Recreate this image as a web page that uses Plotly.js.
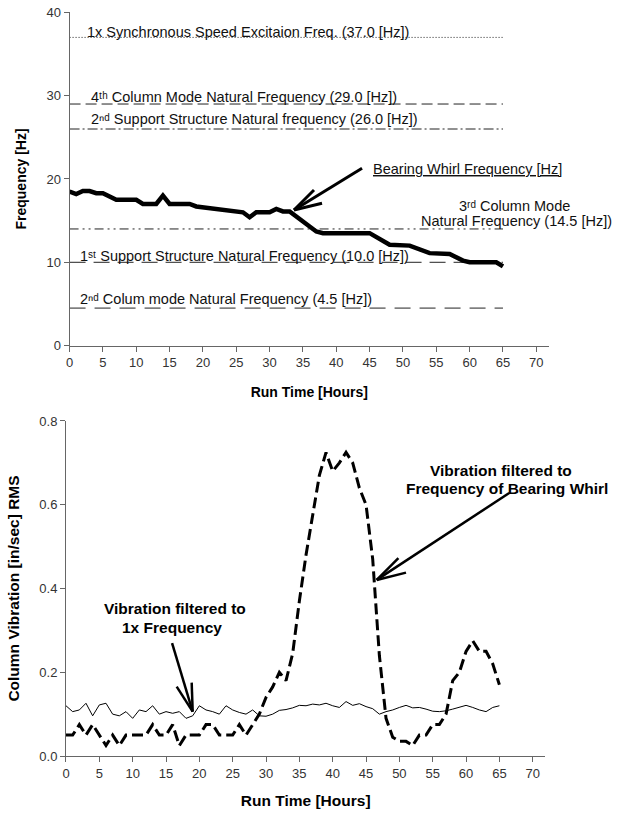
<!DOCTYPE html>
<html><head><meta charset="utf-8">
<script src="https://cdn.plot.ly/plotly-3.0.1.min.js"></script>
<style>html,body{margin:0;padding:0;background:#fff}</style>
</head><body><div id="chart" style="width:619px;height:816px"></div>
<script>
// ---------- DATA ----------
const tickHours = [0,5,10,15,20,25,30,35,40,45,50,55,60,65,70];

// Top chart: bearing whirl frequency [Hz]
const whirlHours = [0,1,2,3,4,5,7,10,11,13,14,15,18,19,26,27,28,30,31,32,33,37,38,45,48,51,54,57,59,60,64,65];
const whirlFreq  = [18.5,18.2,18.55,18.55,18.3,18.3,17.5,17.5,17,17,18,17,17,16.7,16.0,15.4,16,16,16.4,16.1,16.1,13.7,13.5,13.5,12.1,12,11.1,11,10.2,10,10,9.5];

// Top chart: natural / excitation frequency reference lines [Hz]
const refFreqs = [37, 29, 26, 14, 10, 4.5];
const refSpan  = [0, 65];

// Bottom chart
const runHours = [0,1,2,3,4,5,6,7,8,9,10,11,12,13,14,15,16,17,18,19,20,21,22,23,24,25,26,27,28,29,30,31,32,
                  33,34,35,36,37,38,39,40,41,42,43,44,45,46,47,48,49,50,51,52,53,54,55,56,57,58,59,60,61,62,63,64,65];
const vib1x = [0.12,0.106,0.11,0.126,0.096,0.122,0.126,0.10,0.096,0.106,0.09,0.11,0.106,0.12,0.10,0.106,0.102,0.106,0.09,0.096,
               0.12,0.11,0.106,0.10,0.12,0.11,0.104,0.10,0.11,0.096,0.095,0.10,0.109,0.111,0.115,0.121,0.12,0.124,0.122,0.126,
               0.12,0.116,0.13,0.121,0.125,0.118,0.113,0.10,0.106,0.11,0.116,0.121,0.115,0.116,0.112,0.107,0.106,0.108,0.112,0.116,
               0.121,0.116,0.11,0.106,0.116,0.12];
const vibWhirl = [0.05,0.05,0.075,0.05,0.075,0.05,0.025,0.05,0.025,0.05,0.05,0.05,0.05,0.075,0.05,0.05,0.075,0.025,0.05,0.05,
                  0.05,0.075,0.075,0.05,0.05,0.05,0.075,0.05,0.075,0.1,0.14,0.165,0.2,0.18,0.245,0.37,0.48,0.58,0.67,0.725,
                  0.68,0.70,0.725,0.70,0.64,0.60,0.47,0.24,0.09,0.045,0.035,0.035,0.025,0.05,0.05,0.075,0.075,0.1,0.18,0.2,
                  0.25,0.275,0.25,0.25,0.22,0.17];

// ---------- STYLE ----------
const FONT = 'Liberation Sans, Arial, Helvetica, sans-serif';
const refDash = {37:'1px,2px', 29:'11px,5px', 26:'10px,3px,2px,3px', 14:'9px,4px,2px,4px,2px,4px', 10:'16px,8px', 4.5:'16px,9px'};

const traces = [];
refFreqs.forEach(f => {
  traces.push({x: refSpan, y: [f, f], xaxis:'x', yaxis:'y', mode:'lines',
    line:{color:'#222', width:1, dash: refDash[f]}, hoverinfo:'skip'});
});
traces.push({x: whirlHours, y: whirlFreq, xaxis:'x', yaxis:'y', mode:'lines',
  line:{color:'#000', width:4.5}, name:'Bearing Whirl Frequency'});
traces.push({x: runHours, y: vib1x, xaxis:'x2', yaxis:'y2', mode:'lines',
  line:{color:'#000', width:1}, name:'1x'});
traces.push({x: runHours, y: vibWhirl, xaxis:'x2', yaxis:'y2', mode:'lines',
  line:{color:'#000', width:3, dash:'11px,5px'}, name:'Whirl'});

const axisCommon = {showline:true, linecolor:'#666', linewidth:1, ticks:'outside', ticklen:5,
  tickcolor:'#666', showgrid:false, zeroline:false, tickfont:{family:FONT, size:13, color:'#333'}};

function lbl(text, x, y, opts) {
  return Object.assign({text, x, y, xref:'x', yref:'y', showarrow:false, xanchor:'left', yanchor:'bottom',
    yshift:-5, font:{family:FONT, size:14.5, color:'#111'}}, opts || {});
}
// arrow stroke anchored at tip (data coords), drawn with pixel offsets (dx right, dy up)
function stroke(x, y, dx, dy, xr, yr, w) {
  return {type:'line', xref:xr, yref:yr, xsizemode:'pixel', ysizemode:'pixel', xanchor:x, yanchor:y,
    x0:0, y0:0, x1:dx, y1:dy, line:{color:'#000', width:w}};
}
const boldFont = {family:FONT, size:15.5, color:'#000', weight:'bold'};

const annotations = [
  lbl('1x Synchronous Speed Excitaion Freq. (37.0 [Hz])', 2.3, 37.1),
  lbl('4ᵗʰ Column Mode Natural Frequency (29.0 [Hz])', 2.9, 29.3),
  lbl('2ⁿᵈ Support Structure Natural frequency (26.0 [Hz])', 2.9, 26.6),
  lbl('<u>Bearing Whirl Frequency [Hz]</u>', 45.2, 20.6),
  lbl('3ʳᵈ Column Mode', 66.8, 16.2, {xanchor:'center'}),
  lbl('Natural Frequency (14.5 [Hz])', 67.1, 14.36, {xanchor:'center'}),
  lbl('1ˢᵗ Support Structure Natural Frequency (10.0 [Hz])', 1.26, 10.16),
  lbl('2ⁿᵈ Colum mode Natural Frequency (4.5 [Hz])', 1.26, 4.96),
  {text:'Vibration filtered to', x:65.2, y:0.682, xref:'x2', yref:'y2', showarrow:false, font:boldFont},
  {text:'Frequency of Bearing Whirl', x:66.1, y:0.639, xref:'x2', yref:'y2', showarrow:false, font:boldFont},
  {text:'Vibration filtered to', x:16.35, y:0.3515, xref:'x2', yref:'y2', showarrow:false, font:boldFont},
  {text:'1x Frequency', x:15.9, y:0.3075, xref:'x2', yref:'y2', showarrow:false, font:boldFont}
];

const shapes = [
  // top arrow -> bearing whirl line
  stroke(33.66, 16.28, 68, 41.7, 'x', 'y', 3),
  stroke(33.66, 16.28, 20, 20, 'x', 'y', 3),
  stroke(33.66, 16.28, 28, 6.7, 'x', 'y', 3),
  // big bottom arrow
  stroke(46.6, 0.4205, 132.5, 86.9, 'x2', 'y2', 2.5),
  stroke(46.6, 0.4205, 21.7, 21.7, 'x2', 'y2', 2.5),
  stroke(46.6, 0.4205, 29.3, 7.3, 'x2', 'y2', 2.5),
  // small bottom arrow
  stroke(19.0, 0.106, -20.6, 68.5, 'x2', 'y2', 2.5),
  stroke(19.0, 0.106, -16, 25, 'x2', 'y2', 2.5),
  stroke(19.0, 0.106, -1, 29, 'x2', 'y2', 2.5)
];

const layout = {
  width:619, height:816, margin:{l:0, r:0, t:0, b:0},
  paper_bgcolor:'#fff', plot_bgcolor:'#fff', showlegend:false,
  font:{family:FONT, color:'#000'},
  xaxis: Object.assign({}, axisCommon, {domain:[0.1124, 0.8869], range:[0, 71.9], tickmode:'array', tickvals:tickHours,
    anchor:'y', title:{text:'Run Time [Hours]', font:{family:FONT, size:14, weight:'bold', color:'#000'}, standoff:18}}),
  yaxis: Object.assign({}, axisCommon, {domain:[0.5765, 0.9848], range:[0, 40], dtick:10, anchor:'x',
    title:{text:'Frequency [Hz]', font:{family:FONT, size:14, weight:'bold', color:'#000'}, standoff:16}}),
  xaxis2: Object.assign({}, axisCommon, {domain:[0.1066, 0.8811], range:[0, 71.9], tickmode:'array', tickvals:tickHours,
    anchor:'y2', title:{text:'Run Time [Hours]', font:{family:FONT, size:15.5, weight:'bold', color:'#000'}, standoff:15}}),
  yaxis2: Object.assign({}, axisCommon, {domain:[0.0735, 0.4841], range:[0, 0.8], dtick:0.2, tickformat:'.1f', anchor:'x2',
    title:{text:'Column Vibration [in/sec] RMS', font:{family:FONT, size:15.5, weight:'bold', color:'#000'}, standoff:15}}),
  annotations, shapes
};

Plotly.newPlot('chart', traces, layout, {displayModeBar:false, staticPlot:true});
</script></body></html>
